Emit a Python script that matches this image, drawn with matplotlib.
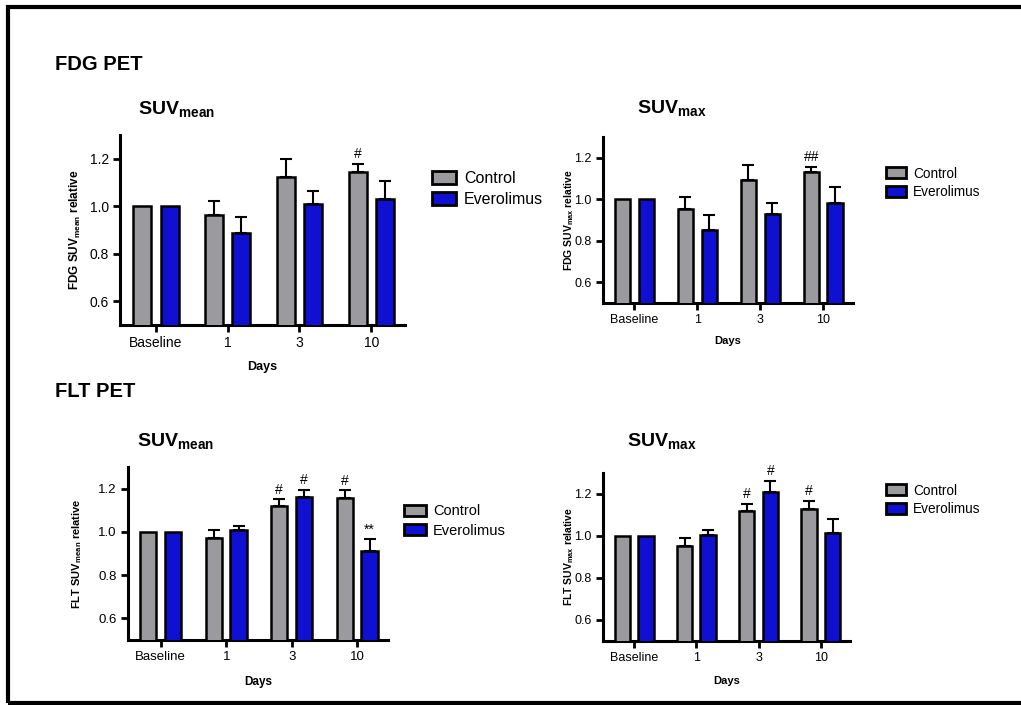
import numpy as np
import matplotlib
matplotlib.use("Agg")
import matplotlib.pyplot as plt
from matplotlib.patches import Patch, Rectangle

plt.rcParams['font.family'] = ['Liberation Sans', 'DejaVu Sans']
plt.rcParams['mathtext.fontset'] = 'custom'
plt.rcParams['mathtext.rm'] = 'Liberation Sans'
plt.rcParams['mathtext.bf'] = 'Liberation Sans:bold'

# data
days = ["Baseline", "1", "3", "10"]

fdg_mean_ctrl = [1.0, 0.962, 1.122, 1.143]
fdg_mean_ctrl_err = [0.0, 0.059, 0.075, 0.035]
fdg_mean_evero = [1.0, 0.889, 1.008, 1.032]
fdg_mean_evero_err = [0.0, 0.065, 0.055, 0.075]
fdg_mean_ctrl_sig = ["", "", "", "#"]
fdg_mean_evero_sig = ["", "", "", ""]

fdg_max_ctrl = [1.0, 0.952, 1.093, 1.130]
fdg_max_ctrl_err = [0.0, 0.061, 0.070, 0.026]
fdg_max_evero = [1.0, 0.854, 0.928, 0.982]
fdg_max_evero_err = [0.0, 0.070, 0.053, 0.075]
fdg_max_ctrl_sig = ["", "", "", "##"]
fdg_max_evero_sig = ["", "", "", ""]

flt_mean_ctrl = [1.0, 0.971, 1.121, 1.157]
flt_mean_ctrl_err = [0.0, 0.038, 0.029, 0.035]
flt_mean_evero = [1.0, 1.009, 1.160, 0.912]
flt_mean_evero_err = [0.0, 0.019, 0.035, 0.054]
flt_mean_ctrl_sig = ["", "", "#", "#"]
flt_mean_evero_sig = ["", "", "#", "**"]

flt_max_ctrl = [1.0, 0.954, 1.120, 1.130]
flt_max_ctrl_err = [0.0, 0.036, 0.032, 0.037]
flt_max_evero = [1.0, 1.003, 1.208, 1.014]
flt_max_evero_err = [0.0, 0.024, 0.054, 0.069]
flt_max_ctrl_sig = ["", "", "#", "#"]
flt_max_evero_sig = ["", "", "#", ""]

GRAY = "#9b9b9f"
BLUE = "#1010d2"
W, H = 1021, 705

fig = plt.figure(figsize=(W / 100, H / 100), dpi=100)


def px_axes(left, top, right, bottom):
    return fig.add_axes([left / W, 1 - bottom / H, (right - left) / W, (bottom - top) / H])


def panel(ax, ctrl, ctrl_err, evero, evero_err, ctrl_sig, evero_sig,
          ylabel, tick_fs, lab_fs, ylab_x, xlab_y, leg_xy, leg_fs):
    x = np.arange(len(days))
    off, bw = 0.19, 0.25
    for vals, errs, sig, col, dx in [(ctrl, ctrl_err, ctrl_sig, GRAY, -off),
                                     (evero, evero_err, evero_sig, BLUE, off)]:
        vals = np.array(vals)
        errs = np.array(errs)
        ax.bar(x + dx, vals, width=bw, color=col, edgecolor="black", linewidth=1.8, zorder=3)
        m = errs > 0
        ax.errorbar(x[m] + dx, vals[m], yerr=[np.zeros(m.sum()), errs[m]], fmt="none",
                    ecolor="black", elinewidth=1.5, capsize=4.5, capthick=1.5, zorder=2)
        for xi, v, e, s in zip(x + dx, vals, errs, sig):
            if s:
                ax.annotate(s, (xi, v + e), xytext=(0, 2), textcoords="offset points",
                            ha="center", va="bottom", fontsize=10)
    ax.set_xlim(-0.5, 3.47)
    ax.set_ylim(0.5, 1.3)
    ax.set_yticks([0.6, 0.8, 1.0, 1.2])
    ax.set_yticklabels(["0.6", "0.8", "1.0", "1.2"])
    ax.set_xticks(x)
    ax.set_xticklabels(days)
    ax.tick_params(labelsize=tick_fs, width=2, length=5, direction="out", pad=3)
    for s in ["top", "right"]:
        ax.spines[s].set_visible(False)
    for s in ["left", "bottom"]:
        ax.spines[s].set_linewidth(2.2)
    ax.set_ylabel(ylabel, fontsize=lab_fs, fontweight="bold")
    ax.yaxis.set_label_coords(ylab_x, 0.5)
    ax.set_xlabel("Days", fontsize=lab_fs + 0.5, fontweight="bold")
    ax.xaxis.set_label_coords(0.5, xlab_y)
    handles = [Patch(facecolor=GRAY, edgecolor="black", linewidth=2),
               Patch(facecolor=BLUE, edgecolor="black", linewidth=2)]
    ax.legend(handles, ["Control", "Everolimus"], loc="center left",
              bbox_to_anchor=(leg_xy[0] / W, 1 - leg_xy[1] / H), bbox_transform=fig.transFigure,
              frameon=False, fontsize=leg_fs, handlelength=1.5, handleheight=0.85,
              handletextpad=0.5, labelspacing=0.35, borderpad=0, borderaxespad=0)


ax1 = px_axes(120, 135, 405, 325)
panel(ax1, fdg_mean_ctrl, fdg_mean_ctrl_err, fdg_mean_evero, fdg_mean_evero_err,
      fdg_mean_ctrl_sig, fdg_mean_evero_sig,
      r"FDG SUV$_{\mathbf{mean}}$ relative", 10, 8.5, -0.13, -0.19, (432, 189), 11.5)

ax2 = px_axes(603, 137, 853, 303)
panel(ax2, fdg_max_ctrl, fdg_max_ctrl_err, fdg_max_evero, fdg_max_evero_err,
      fdg_max_ctrl_sig, fdg_max_evero_sig,
      r"FDG SUV$_{\mathbf{max}}$ relative", 9, 7.5, -0.11, -0.2, (886, 183), 9.8)

ax3 = px_axes(128, 467, 388, 640)
panel(ax3, flt_mean_ctrl, flt_mean_ctrl_err, flt_mean_evero, flt_mean_evero_err,
      flt_mean_ctrl_sig, flt_mean_evero_sig,
      r"FLT SUV$_{\mathbf{mean}}$ relative", 9.5, 8, -0.17, -0.21, (404, 521), 10.5)

ax4 = px_axes(603, 473, 850, 641)
panel(ax4, flt_max_ctrl, flt_max_ctrl_err, flt_max_evero, flt_max_evero_err,
      flt_max_ctrl_sig, flt_max_evero_sig,
      r"FLT SUV$_{\mathbf{max}}$ relative", 9, 7.5, -0.11, -0.21, (886, 500), 9.8)

# section headings and panel titles
fig.text(55 / W, 1 - 70 / H, "FDG PET", fontsize=14.5, fontweight="bold", va="baseline")
fig.text(55 / W, 1 - 397 / H, "FLT PET", fontsize=14.5, fontweight="bold", va="baseline")
fig.text(138 / W, 1 - 115 / H, r"SUV$_{\mathbf{mean}}$", fontsize=14, fontweight="bold", va="baseline")
fig.text(637 / W, 1 - 114 / H, r"SUV$_{\mathbf{max}}$", fontsize=14, fontweight="bold", va="baseline")
fig.text(137 / W, 1 - 447 / H, r"SUV$_{\mathbf{mean}}$", fontsize=14, fontweight="bold", va="baseline")
fig.text(627 / W, 1 - 447 / H, r"SUV$_{\mathbf{max}}$", fontsize=14, fontweight="bold", va="baseline")

# frame around the figure (right side runs off the image)
fig.add_artist(Rectangle((7.5 / W, 1 - 703 / H), 1.1, (703 - 6.5) / H, transform=fig.transFigure,
                         fill=False, edgecolor="black", linewidth=3))

fig.savefig("out.png", dpi=100)
